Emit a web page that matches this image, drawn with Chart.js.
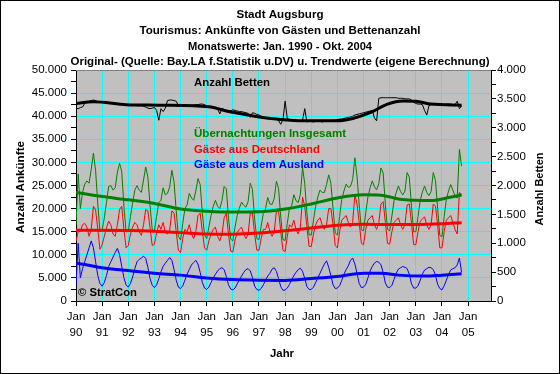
<!DOCTYPE html>
<html><head><meta charset="utf-8">
<script src="https://cdn.jsdelivr.net/npm/chart.js"></script>
<style>html,body{margin:0;padding:0;background:#fff}canvas{display:block}</style>
</head><body>
<canvas id="c" width="560" height="374"></canvas>
<script>
// ---- Data (monthly, Jan 1990 .. Okt 2004) ----
const yearLabels = ['90','91','92','93','94','95','96','97','98','99','00','01','02','03','04','05'];

const gesamt = [
16500,27500,20000,23500,25300,26000,25500,28500,32000,28200,21000,15000,
15400,18000,21300,24800,25000,24000,24500,27900,29800,28000,20500,15000,
15000,18300,21200,24000,25000,24000,23500,26200,29000,26800,20600,15400,
15200,18300,21300,21800,24500,23000,23300,24700,28300,25800,19500,14000,
13200,16800,20000,20800,23300,22300,21800,23800,26500,25200,19000,14300,
13500,16000,18500,20500,21800,20500,20000,21700,24800,24300,18000,13400,
13000,16000,18500,20100,21400,20700,20300,21500,25500,24100,17700,13500,
13300,16200,19000,20000,22400,21000,20900,22200,25900,24300,18100,13300,
13100,16800,20100,20600,23000,21700,21300,23100,28900,25400,19100,14300,
14300,17500,20500,22500,24000,23500,23500,25200,27300,25500,20000,14700,
14300,18300,22000,23800,25300,24600,24800,26300,31000,27000,20800,15400,
15200,19100,22500,24500,26000,24700,24050,25400,28800,27700,20900,15500,
15200,18400,21700,23500,24900,23700,22960,23800,27800,26800,20500,15000,
15000,18300,21700,23600,24900,23500,22800,23700,27800,26100,20100,14200,
13900,18300,22000,23800,25200,24000,22700,22300,32800,29200];

const deutschland = [
13000,15000,15000,16500,16800,16000,14000,15500,20500,19700,15500,11200,
12200,14000,15800,17300,16500,14500,14000,16500,19800,20500,15500,11500,
12000,14500,16000,17000,16500,15000,14200,16500,19800,19500,15800,12000,
12300,14800,16500,15500,17000,14800,14500,15300,19500,19000,15000,11000,
10500,13500,15500,15000,16500,14500,13500,15000,18500,19000,15000,11500,
11000,13000,14500,15500,16000,14000,13000,14500,18000,19000,14500,10800,
10600,13200,14800,15500,16000,14500,13500,14500,19000,19000,14500,11000,
11000,13500,15500,15500,17000,15000,14000,15000,19500,19500,15000,11000,
10700,14000,16500,16000,17500,15500,14500,16000,22500,20500,16000,11800,
11800,14500,16500,17500,18000,16500,15500,16500,20000,20000,16500,12000,
11500,15000,17500,18000,18500,17000,16000,17000,23000,21000,17000,12500,
12200,15500,17500,18000,18500,16500,15500,17000,21000,21500,17000,12500,
12300,15000,17000,17500,18000,16500,15500,16500,20800,21000,16800,12200,
12200,15000,17200,17800,18200,16500,15500,16500,21000,20500,16500,11500,
11500,15000,17500,18000,18500,17000,15500,14500,23500,23000];

const ausland = [
3500,12500,5000,7000,8500,10000,11500,13000,11500,8500,5500,3800,
3200,4000,5500,7500,8500,9500,10500,11400,10000,7500,5000,3500,
3000,3800,5200,7000,8500,9000,9300,9700,9200,7300,4800,3400,
2900,3500,4800,6300,7500,8200,8800,9400,8800,6800,4500,3000,
2700,3300,4500,5800,6800,7800,8300,8800,8000,6200,4000,2800,
2500,3000,4000,5000,5800,6500,7000,7200,6800,5300,3500,2600,
2400,2800,3700,4600,5400,6200,6800,7000,6500,5100,3200,2500,
2300,2700,3500,4500,5400,6000,6900,7200,6400,4800,3100,2300,
2400,2800,3600,4600,5500,6200,6800,7100,6400,4900,3100,2500,
2500,3000,4000,5000,6000,7000,8000,8700,7300,5500,3500,2700,
2800,3300,4500,5800,6800,7600,8800,9300,8000,6000,3800,2900,
3000,3600,5000,6500,7500,8200,8550,8400,7800,6200,3900,3000,
2900,3400,4700,6000,6900,7200,7460,7300,7000,5800,3700,2800,
2800,3300,4500,5800,6700,7000,7300,7200,6800,5600,3600,2700,
2400,3300,4500,5800,6700,7000,7200,7800,9300,6200];

const betten = [
3340,3330,3350,3360,3420,3440,3460,3470,3480,3470,3450,3440,
3440,3440,3430,3430,3430,3420,3420,3420,3410,3410,3410,3400,
3400,3400,3390,3390,3380,3380,3380,3370,3360,3340,3330,3340,
3350,3300,3130,3330,3280,3340,3470,3480,3480,3470,3460,3380,
3390,3390,3390,3380,3380,3390,3390,3400,3400,3410,3410,3400,
3380,3370,3360,3350,3340,3330,3240,3330,3320,3300,3300,3290,
3310,3300,3290,3280,3280,3270,3260,3250,3180,3260,3250,3230,
3220,3200,3180,3170,3160,3160,3150,3150,3150,3120,3060,3140,
3460,3160,3140,3130,3130,3130,3120,3120,3130,3330,3100,3110,
3110,3100,3110,3120,3110,3100,3110,3110,3120,3120,3130,3130,
3140,3150,3150,3160,3170,3180,3190,3200,3220,3230,3240,3250,
3260,3270,3280,3290,3300,3170,3120,3510,3520,3520,3520,3520,
3520,3520,3520,3520,3510,3510,3510,3500,3500,3500,3480,3440,
3420,3410,3410,3400,3300,3220,3380,3400,3400,3410,3410,3410,
3400,3400,3410,3410,3410,3400,3400,3460,3330,3380];

// Trend values (month index since Jan 1990, value)
const trendGesamtMonat = [0,12,24,36,48,60,72,84,96,108,120,132,140,148,156,164,170,177];
const trendGesamt      = [23500,22600,21900,21100,19900,19450,19250,19300,19900,21000,22300,23000,22900,22100,21800,21750,22300,22950];
const trendDeutschMonat = [0,24,36,48,60,72,84,96,108,120,132,144,156,168,177];
const trendDeutsch      = [15300,15250,15100,14800,14500,14450,14700,15200,15800,16400,16600,16550,16550,16700,16950];
const trendAuslandMonat = [0,12,24,36,48,60,72,84,96,108,120,132,140,148,160,168,177];
const trendAusland      = [8250,7200,6600,6000,5600,5000,4650,4500,4450,4850,5300,6000,6000,5600,5400,5600,5900];
const trendBettenMonat = [0,8,23,38,54,62,69,77,85,92,104,120,127,135,143,150,156,163,177];
const trendBetten      = [3420,3450,3400,3390,3380,3360,3290,3235,3180,3150,3120,3120,3160,3260,3410,3465,3460,3410,3390];

// ---- helpers ----
const monthly = arr => arr.map((v, i) => ({x: i, y: v}));
const knots = (ms, vs) => ms.map((m, i) => ({x: m, y: vs[i]}));
const fmt = v => String(Math.round(v)).replace(/\B(?=(\d{3})+(?!\d))/g, '.');
const FONT = 'Liberation Sans, Arial, sans-serif';

function fitText(ctx, text, x, y, w, font, color, align, rot) {
  ctx.save();
  ctx.font = font; ctx.fillStyle = color; ctx.textBaseline = 'middle';
  ctx.textAlign = align || 'left';
  const m = ctx.measureText(text).width;
  ctx.translate(x, y);
  if (rot) ctx.rotate(rot);
  ctx.scale(w / m, 1);
  ctx.fillText(text, 0, 0);
  ctx.restore();
}

const deco = {
  id: 'deco',
  beforeDraw(chart) {
    const {ctx, chartArea: a} = chart;
    ctx.save();
    ctx.fillStyle = '#fff'; ctx.fillRect(0, 0, chart.width, chart.height);
    ctx.fillStyle = '#C0C0C0'; ctx.fillRect(a.left, a.top, a.right - a.left, a.bottom - a.top);
    ctx.restore();
  },
  afterDraw(chart) {
    const {ctx, chartArea: a} = chart;
    const B = 'bold 11.5px ' + FONT;
    ctx.save();
    ctx.strokeStyle = '#808080'; ctx.lineWidth = 1;
    ctx.beginPath(); ctx.moveTo(a.left, a.top + 0.5); ctx.lineTo(a.right, a.top + 0.5); ctx.stroke();
    ctx.strokeStyle = '#000';
    ctx.strokeRect(0.5, 0.5, chart.width - 1, chart.height - 1);
    ctx.restore();
    fitText(ctx, 'Stadt Augsburg', 280, 15, 87, B, '#000', 'center');
    fitText(ctx, 'Tourismus: Ankünfte von Gästen und Bettenanzahl', 280, 31, 281, B, '#000', 'center');
    fitText(ctx, 'Monatswerte: Jan. 1990 - Okt. 2004', 280, 46.5, 184, B, '#000', 'center');
    fitText(ctx, 'Original- (Quelle: Bay.LA f.Statistik u.DV) u. Trendwerte (eigene Berechnung)', 280, 62, 419, B, '#000', 'center');
    fitText(ctx, 'Anzahl Ankünfte', 21, 187, 92, B, '#000', 'center', -Math.PI / 2);
    fitText(ctx, 'Anzahl Betten', 540, 189, 73, B, '#000', 'center', -Math.PI / 2);
    fitText(ctx, 'Jahr', 282, 354, 24, B, '#000', 'center');
    fitText(ctx, 'Anzahl Betten', 194, 82.5, 76, B, '#000', 'left');
    fitText(ctx, 'Übernachtungen Insgesamt', 194, 134, 152, B, '#008000', 'left');
    fitText(ctx, 'Gäste aus Deutschland', 194, 150, 126, B, '#FF0000', 'left');
    fitText(ctx, 'Gäste aus dem Ausland', 194, 165, 130, B, '#0000FF', 'left');
    fitText(ctx, '© StratCon', 78, 293, 59, B, '#000', 'left');
  }
};

const raw = (label, data, color, axis) => ({label, data, borderColor: color, borderWidth: 1,
  pointRadius: 0, tension: 0, fill: false, yAxisID: axis || 'y'});
const trend = (label, data, color, axis) => ({label, data, borderColor: color, borderWidth: 3,
  pointRadius: 0, cubicInterpolationMode: 'monotone', fill: false, yAxisID: axis || 'y'});

new Chart(document.getElementById('c'), {
  type: 'line',
  data: {
    datasets: [
      trend('Trend Ausland', knots(trendAuslandMonat, trendAusland), '#0000FF'),
      trend('Trend Deutschland', knots(trendDeutschMonat, trendDeutsch), '#FF0000'),
      trend('Trend Gesamt', knots(trendGesamtMonat, trendGesamt), '#008000'),
      raw('Gäste aus dem Ausland', monthly(ausland), '#0000FF'),
      raw('Gäste aus Deutschland', monthly(deutschland), '#FF0000'),
      raw('Übernachtungen Insgesamt', monthly(gesamt), '#008000'),
      trend('Trend Betten', knots(trendBettenMonat, trendBetten), '#000000', 'y2'),
      raw('Anzahl Betten', monthly(betten), '#000000', 'y2')
    ]
  },
  options: {
    responsive: false, animation: false, devicePixelRatio: 1,
    layout: {padding: {top: 70, left: 0, right: 0, bottom: 0}},
    plugins: {legend: {display: false}, tooltip: {enabled: false}, title: {display: false}},
    scales: {
      x: {
        type: 'linear', min: 0, max: 190.5,
        afterFit: s => { s.height = 73; },
        afterBuildTicks: s => { s.ticks = yearLabels.map((_, i) => ({value: i * 12})); },
        grid: {color: '#00FFFF', lineWidth: 1, tickColor: '#000', tickLength: 5, drawOnChartArea: true},
        border: {color: '#000', width: 1},
        ticks: {stepSize: 12, autoSkip: false, maxRotation: 0, padding: 3, color: '#000',
          font: {family: FONT, size: 11.5, lineHeight: 1.4},
          callback: v => (v % 12 === 0) ? ['Jan', yearLabels[v / 12]] : ''}
      },
      y: {
        position: 'left', min: 0, max: 50000,
        afterFit: s => { s.width = 76; },
        grid: {color: c => (c.tick && c.tick.value % 5000 === 0 && c.tick.value > 0 && c.tick.value < 50000) ? '#00FFFF' : 'rgba(0,0,0,0)',
          tickColor: '#000', tickLength: 5},
        border: {color: '#000', width: 1},
        ticks: {stepSize: 2500, autoSkip: false, padding: 4, color: '#000',
          font: {family: FONT, size: 11.5},
          callback: v => v % 5000 === 0 ? fmt(v) : ''}
      },
      y2: {
        position: 'right', min: 0, max: 4000,
        afterFit: s => { s.width = 69; },
        grid: {drawOnChartArea: false, tickColor: '#000', tickLength: 5},
        border: {color: '#000', width: 1},
        ticks: {stepSize: 250, autoSkip: false, padding: 1, color: '#000',
          font: {family: FONT, size: 11.5},
          callback: v => v % 500 === 0 ? fmt(v) : ''}
      }
    }
  },
  plugins: [deco]
});
</script>
</body></html>
